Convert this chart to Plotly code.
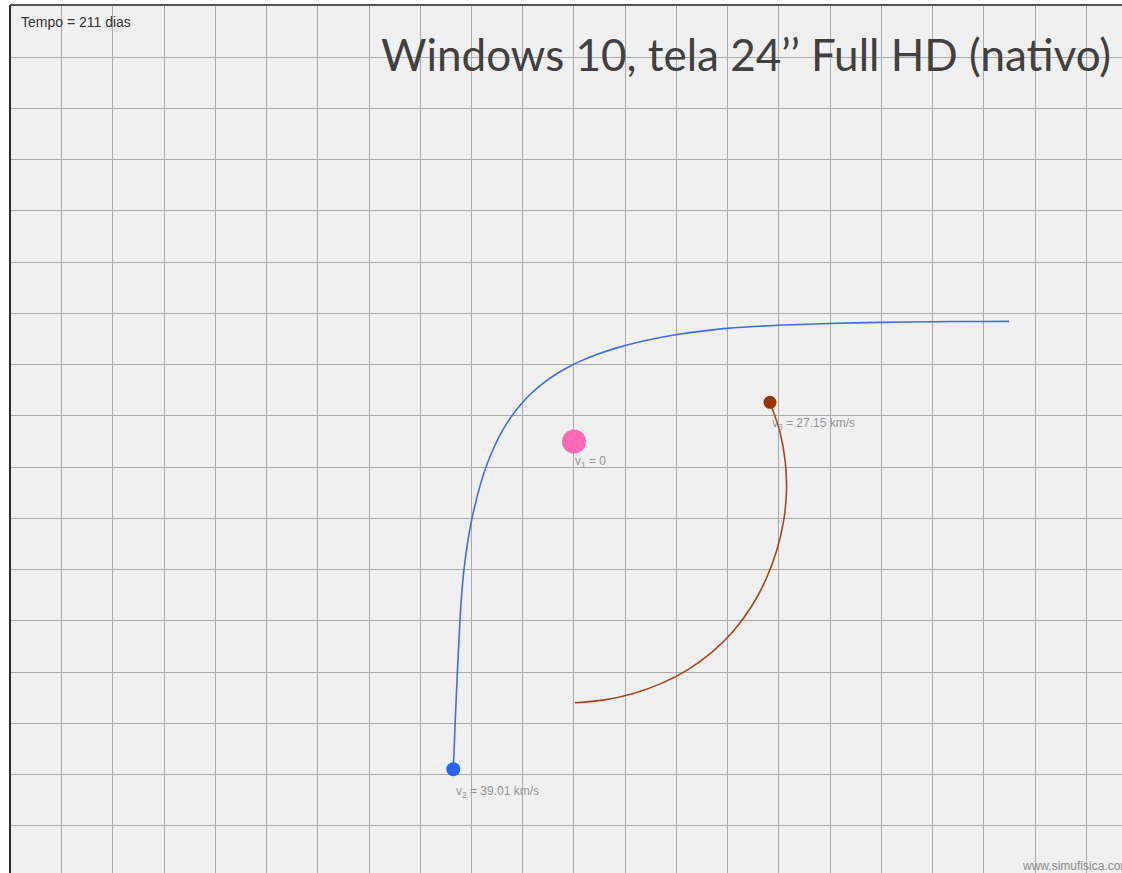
import plotly.graph_objects as go

# Trajectory points, read in screen pixels of the original simulation picture
blue_px = [453.3, 455.2, 457.4, 459.9, 461.5, 463.7, 466.2, 469.4, 473.4, 480.2, 486.8, 493.5,
           500.1, 506.8, 513.8, 521.0, 528.6, 536.9, 545.9, 556.0, 567.5, 581.0, 597.4, 617.7,
           644.5, 681.6, 704.0, 727.0, 778.0, 829.0, 880.0, 932.0, 983.0, 1009.0]
blue_py = [769.3, 721.9, 671.9, 621.9, 596.9, 571.9, 551.9, 531.9, 511.9, 485.1, 464.8, 448.5,
           434.9, 423.4, 413.3, 404.3, 396.0, 388.4, 381.2, 374.2, 367.5, 360.9, 354.2, 347.6,
           340.7, 333.8, 330.9, 328.4, 325.3, 323.5, 322.4, 321.7, 321.4, 321.3]

brown_px = [770.0, 779.7, 785.2, 786.5, 783.5, 776.5, 765.8, 751.5, 733.5, 712.0, 687.6, 660.9,
            632.5, 603.2, 575.0]
brown_py = [402.3, 431.1, 461.0, 491.5, 521.7, 551.3, 579.7, 606.5, 630.9, 652.1, 669.8, 683.6,
            693.7, 700.1, 702.7]

# convert to grid units (1 unit = 1 grid cell, origin at the central body v1)
CELL = 51.25
OX, OY = 574.0, 441.4
blue_x = [round((p - OX) / CELL, 3) for p in blue_px]
blue_y = [round((OY - p) / CELL, 3) for p in blue_py]
brown_x = [round((p - OX) / CELL, 3) for p in brown_px]
brown_y = [round((OY - p) / CELL, 3) for p in brown_py]

body_names = ["v1", "v2", "v3"]
body_x = [0.0, -2.355, 3.824]
body_y = [0.0, -6.398, 0.763]
body_labels = ["v<sub>1</sub> = 0", "v<sub>2</sub> = 39.01 km/s", "v<sub>3</sub> = 27.15 km/s"]
label_x = [-0.02, -2.341, 3.824]
label_y = [-0.402, -6.841, 0.340]

title_text = "Windows 10, tela 24’’ Full HD (nativo)"
time_text = "Tempo = 211 dias"
site_text = "www.simufisica.com"

fig = go.Figure()

fig.add_trace(go.Scatter(x=blue_x, y=blue_y, mode="lines",
                         line=dict(color="#3b6ef5", width=1.6, shape="spline", smoothing=0.8),
                         hoverinfo="skip", showlegend=False))
fig.add_trace(go.Scatter(x=brown_x, y=brown_y, mode="lines",
                         line=dict(color="#a8461a", width=1.6, shape="spline", smoothing=0.8),
                         hoverinfo="skip", showlegend=False))

# bodies
fig.add_trace(go.Scatter(x=[body_x[0]], y=[body_y[0]], mode="markers",
                         marker=dict(size=24, color="#ff69b4"), hoverinfo="skip", showlegend=False))
fig.add_trace(go.Scatter(x=[body_x[1]], y=[body_y[1]], mode="markers",
                         marker=dict(size=14, color="#2b63ff"), hoverinfo="skip", showlegend=False))
fig.add_trace(go.Scatter(x=[body_x[2]], y=[body_y[2]], mode="markers",
                         marker=dict(size=13, color="#993300"), hoverinfo="skip", showlegend=False))

for lx, ly, t in zip(label_x, label_y, body_labels):
    fig.add_annotation(x=lx, y=ly, text=t, showarrow=False, xanchor="left", yanchor="middle",
                       font=dict(family="Liberation Sans, Arial", size=12, color="#959595"))

fig.add_annotation(x=10.517, y=7.56, text=title_text, showarrow=False, xanchor="right", yanchor="middle",
                   font=dict(family="Lato", size=44, color="#404040"))
fig.add_annotation(x=-10.82, y=8.18, text=time_text, showarrow=False, xanchor="left", yanchor="middle",
                   font=dict(family="Liberation Sans, Arial", size=14, color="#333333"))
fig.add_annotation(x=8.70, y=-8.285, text=site_text, showarrow=False, xanchor="left", yanchor="middle",
                   font=dict(family="Liberation Sans, Arial", size=12, color="#8a8a8a"))

# border lines (left and top)
fig.add_shape(type="line", xref="paper", yref="paper", x0=0, x1=0, y0=0, y1=1,
              line=dict(color="#2a2a2a", width=2))
fig.add_shape(type="line", xref="paper", yref="paper", x0=0, x1=1, y0=1, y1=1,
              line=dict(color="#555555", width=2))

fig.update_xaxes(range=[-11.005, 10.693], tick0=0, dtick=1, showgrid=True, gridcolor="#aaaaaa", gridwidth=1.2,
                 zeroline=False, showticklabels=False, ticks="", showline=False, fixedrange=True)
fig.update_yaxes(range=[-8.421, 8.515], tick0=0.5, dtick=1, showgrid=True, gridcolor="#aaaaaa", gridwidth=1.2,
                 zeroline=False, showticklabels=False, ticks="", showline=False, fixedrange=True)

fig.update_layout(width=1122, height=873, margin=dict(l=10, r=0, t=5, b=0),
                  plot_bgcolor="#f0f0f0", paper_bgcolor="#ffffff", showlegend=False)

fig.write_html("out.html", config={"displayModeBar": False},
               post_script="document.body.style.margin='0px';document.body.style.overflow='hidden';")
